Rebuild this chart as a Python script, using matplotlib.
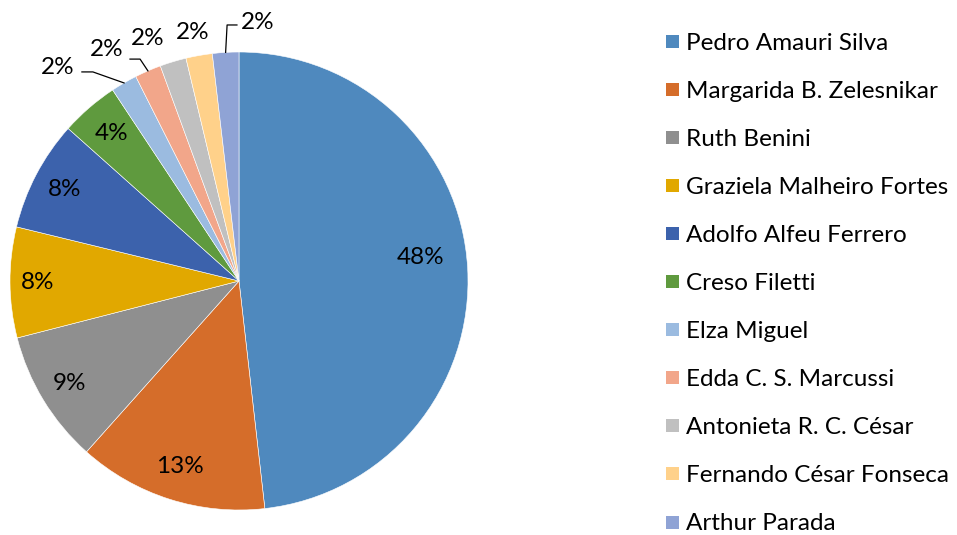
import matplotlib
matplotlib.use("Agg")
import matplotlib.pyplot as plt
from matplotlib.patches import Rectangle
import numpy as np

names = [
    "Pedro Amauri Silva",
    "Margarida B. Zelesnikar",
    "Ruth Benini",
    "Graziela Malheiro Fortes",
    "Adolfo Alfeu Ferrero",
    "Creso Filetti",
    "Elza Miguel",
    "Edda C. S. Marcussi",
    "Antonieta R. C. César",
    "Fernando César Fonseca",
    "Arthur Parada",
]
shares = [48.2, 13.4, 9.4, 7.8, 7.8, 4.1, 1.86, 1.86, 1.86, 1.86, 1.86]
colors = [
    "#4F89BE", "#D56D2A", "#8F8F8F", "#E1A800", "#3C62AC", "#5F9A3E",
    "#9BBBE0", "#F2A68A", "#C0C0C0", "#FFD18A", "#8FA3D5",
]

plt.rcParams["font.family"] = ["Lato", "DejaVu Sans"]
FS = 17.5

W, H = 957, 535
fig = plt.figure(figsize=(W / 100, H / 100), dpi=100)

# pie centre (239, 281) px, radius 229 px
cx, cy, R = 239, 281, 229
ax = fig.add_axes([0, 0, 480 / W, 1])
wedges, _ = ax.pie(shares, colors=colors, startangle=90, counterclock=False,
                   wedgeprops=dict(edgecolor="white", linewidth=0.4))
ax.set_xlim(-cx / R, (480 - cx) / R)
ax.set_ylim((cy - H) / R, cy / R)

labels = ["%.0f%%" % s for s in shares]

# inside labels: (radius, angle shift in degrees)
inside = [(0.80, 4.0), (0.85, 0), (0.865, 0), (0.88, 0), (0.86, 0), (0.85, 0)]
for i, (r, shift) in enumerate(inside):
    w = wedges[i]
    ang = np.deg2rad((w.theta1 + w.theta2) / 2 + shift)
    ax.text(r * np.cos(ang), r * np.sin(ang), labels[i], ha="center",
            va="center", fontsize=FS)

# outside labels for the small slices (text pos, elbow, line end)
outside = [
    ((-0.790, 0.934), (-0.638, 0.913), (-0.686, 0.913)),
    ((-0.576, 1.009), (-0.432, 0.969), (-0.476, 0.969)),
    ((-0.397, 1.061), None, None),
    ((-0.201, 1.083), None, None),
    ((0.083, 1.131), (-0.052, 1.118), (-0.009, 1.118)),
]
for k, (tpos, elbow, end) in enumerate(outside):
    i = 6 + k
    w = wedges[i]
    ang = np.deg2rad((w.theta1 + w.theta2) / 2)
    ax.text(tpos[0], tpos[1], labels[i], ha="center", va="center", fontsize=FS)
    if elbow is not None:
        ax.plot([np.cos(ang), elbow[0], end[0]],
                [np.sin(ang), elbow[1], end[1]], color="black", lw=0.9,
                clip_on=False)

# legend
for i, name in enumerate(names):
    yc = 41 + 48.1 * i
    fig.patches.append(Rectangle((666 / W, 1 - (yc + 6.5) / H), 13 / W,
                                 13 / H, transform=fig.transFigure,
                                 facecolor=colors[i], edgecolor="none"))
    fig.text(686 / W, 1 - yc / H, name, ha="left", va="center_baseline",
             fontsize=FS)

fig.savefig("out.png", dpi=100)
